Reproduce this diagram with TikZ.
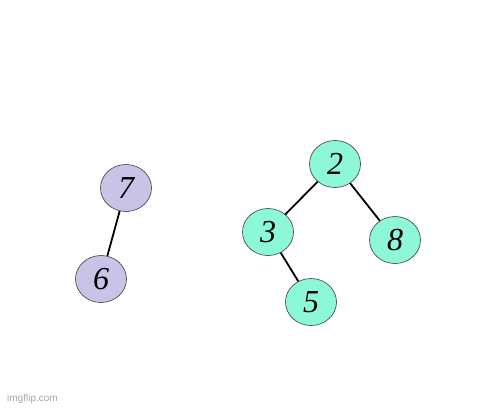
\documentclass[tikz,border=0pt]{standalone}
\usepackage{fontspec}
\setmainfont{Liberation Serif}
\newfontfamily\wmfont{Liberation Sans}
\usetikzlibrary{shapes.geometric}
\definecolor{lav}{RGB}{200,196,232}
\definecolor{mint}{RGB}{140,248,216}
\definecolor{rim}{RGB}{60,60,60}
\tikzset{
  vert/.style={ellipse, draw=rim, line width=0.6pt, minimum width=51pt, minimum height=47pt, inner sep=0pt, font=\fontsize{32}{32}\selectfont\itshape},
  pv/.style={vert, fill=lav},
  gv/.style={vert, fill=mint},
  edge/.style={line width=1.8pt, black}
}
\begin{document}
\begin{tikzpicture}[x=1pt,y=-1pt]
\useasboundingbox (0,0) rectangle (500,408);
\fill[white] (0,0) rectangle (500,408);
\node[pv] (n7) at (126,188) {7};
\node[pv] (n6) at (101,279) {6};
\node[gv] (n2) at (335,164) {2};
\node[gv] (n3) at (268,232) {3};
\node[gv] (n8) at (395,240) {8};
\node[gv] (n5) at (311,302) {5};
\draw[edge] (n7) -- (n6);
\draw[edge] (n2) -- (n3);
\draw[edge] (n2) -- (n8);
\draw[edge] (n3) -- (n5);
\node[anchor=west, inner sep=0pt, text=black!35, font=\wmfont\fontsize{10}{10}\selectfont] (wm) at (7,399) {imgflip.com};
\end{tikzpicture}
\end{document}
